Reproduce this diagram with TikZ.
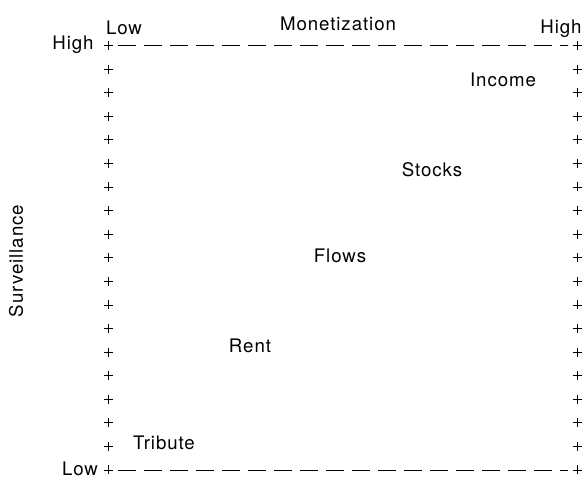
\documentclass[tikz,border=0pt]{standalone}
\usepackage{fontspec}
\setmainfont[LetterSpace=5]{TeX Gyre Heros}
\begin{document}
\begin{tikzpicture}[x=0.75pt,y=-0.75pt]

      \useasboundingbox (0,0) rectangle (585,485);

      % corners of the dashed frame
      \coordinate (tl) at (118,45.5);
      \coordinate (tr) at (568,45.5);
      \coordinate (bl) at (118,470);
      \coordinate (br) at (568,470);

      \begin{scope}[line width=0.6pt,dash pattern=on 13.5pt off 6pt]
        \draw (tl) -- (tr);
        \draw (bl) -- (br);
      \end{scope}

      % plus marks down both sides
      \begin{scope}[line width=0.55pt]
        \foreach \i in {0,...,18} {
          \draw (108,{45.5+\i*23.58}) +(-4.5,0) -- +(4.5,0) +(0,-4.5) -- +(0,4.5);
          \draw (577,{45.5+\i*23.58}) +(-4.5,0) -- +(4.5,0) +(0,-4.5) -- +(0,4.5);
        }
      \end{scope}

      \begin{scope}[every node/.style={inner sep=0pt,font=\fontsize{14}{16}\selectfont}]
        \node (mon)  at (338,24)  {Monetization};
        \node (mlo)  at (124,28)  {Low};
        \node (mhi)  at (561,29)  {High};
        \node (shi)  at (73,45)   {High};
        \node (slo)  at (80,469)  {Low};
        \node[rotate=90] (surv) at (16,261) {Surveillance};
        \node (inc)  at (503,80)  {Income};
        \node (stk)  at (432,170) {Stocks};
        \node (flo)  at (340,256) {Flows};
        \node (rnt)  at (250,346) {Rent};
        \node (trb)  at (164,443) {Tribute};
      \end{scope}

    \end{tikzpicture}
\end{document}
